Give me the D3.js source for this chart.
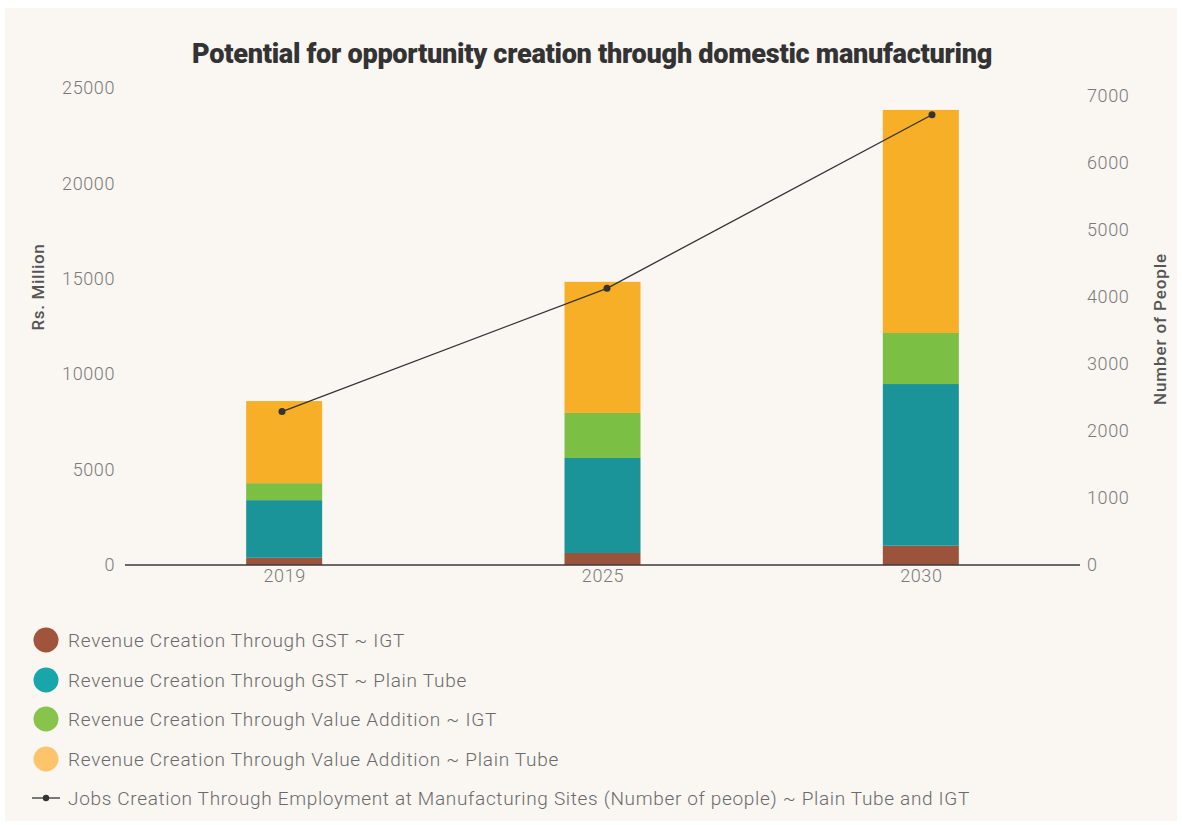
<!DOCTYPE html>
<html>
<head>
<meta charset="utf-8">
<script src="https://cdn.jsdelivr.net/npm/d3@7"></script>
<style>
  html, body { margin: 0; padding: 0; background: #ffffff; }
  svg { display: block; }
</style>
</head>
<body>
<svg id="chart" width="1182" height="825"></svg>
<script>
// Years on the category axis
const years = ["2019", "2025", "2030"];

// Revenue components (Rs. Million), stacked bottom to top
const gstIgt = [380, 630, 1010];
const gstPlain = [3020, 4980, 8475];
const vaIgt = [890, 2360, 2675];
const vaPlain = [4300, 6870, 11690];

// Jobs created (number of people), right axis
const jobs = [2290, 4130, 6720];

const leftTicks = [0, 5000, 10000, 15000, 20000, 25000];
const rightTicks = [0, 1000, 2000, 3000, 4000, 5000, 6000, 7000];

const seriesNames = [
  "Revenue Creation Through GST ~ IGT",
  "Revenue Creation Through GST ~ Plain Tube",
  "Revenue Creation Through Value Addition ~ IGT",
  "Revenue Creation Through Value Addition ~ Plain Tube"
];
const lineName = "Jobs Creation Through Employment at Manufacturing Sites (Number of people) ~ Plain Tube and IGT";

const barColors = ["#9c533b", "#1b9499", "#7bbf45", "#f6af26"];
const legendColors = ["#a0553a", "#17a6a9", "#88c34b", "#fdc46c"];

const svg = d3.select("#chart");
const W = 1182, H = 825;

// card background
svg.append("rect").attr("x", 5).attr("y", 8).attr("width", W - 10).attr("height", H - 12)
  .attr("fill", "#faf6f2");

const plot = { left: 125, right: 1080, top: 88, bottom: 565 };

const x = d3.scalePoint().domain(years).range([plot.left, plot.right]).padding(0.5);
const xLine = d3.scalePoint().domain(years).range([282, 932]);
const barW = 76;
const yL = d3.scaleLinear().domain([0, 25000]).range([plot.bottom, plot.top]);
const yR = d3.scaleLinear().domain([0, 7000]).range([plot.bottom, 96]);

const tickFont = "Roboto, 'Open Sans', sans-serif";

// stretch a text element to a given width through letter spacing
function spread(sel, target) {
  sel.each(function () {
    const n = this.getNumberOfChars();
    const w = this.getComputedTextLength();
    d3.select(this).attr("letter-spacing", (target - w) / n);
  });
}

// stacked bars
const rows = years.map((yr, i) => ({ year: yr, a: gstIgt[i], b: gstPlain[i], c: vaIgt[i], d: vaPlain[i] }));
const stack = d3.stack().keys(["a", "b", "c", "d"])(rows);
svg.append("g").selectAll("g").data(stack).join("g")
  .attr("fill", (d, i) => barColors[i])
  .selectAll("rect").data(d => d).join("rect")
  .attr("x", d => x(d.data.year) - barW / 2)
  .attr("width", barW)
  .attr("y", d => yL(d[1]))
  .attr("height", d => yL(d[0]) - yL(d[1]));

// baseline
svg.append("line").attr("x1", plot.left).attr("x2", plot.right)
  .attr("y1", plot.bottom).attr("y2", plot.bottom)
  .attr("stroke", "#3a3a3a").attr("stroke-width", 1.5);

function styleTicks(g) {
  g.select(".domain").remove();
  g.selectAll("text").attr("font-family", tickFont).attr("font-weight", 300)
    .attr("font-size", 18).attr("fill", "#7a7a7a").attr("letter-spacing", 0.6);
}

// left axis
const gL = svg.append("g").attr("transform", `translate(${plot.left},0)`)
  .call(d3.axisLeft(yL).tickValues(leftTicks).tickSize(0).tickPadding(10).tickFormat(d3.format("d")));
styleTicks(gL);

// right axis
const gR = svg.append("g").attr("transform", `translate(${plot.right},0)`)
  .call(d3.axisRight(yR).tickValues(rightTicks).tickSize(0).tickPadding(7).tickFormat(d3.format("d")));
styleTicks(gR);

// bottom axis
const gB = svg.append("g").attr("transform", `translate(0,${plot.bottom})`)
  .call(d3.axisBottom(x).tickSize(0).tickPadding(4));
styleTicks(gB);

// jobs line
const line = d3.line().x((d, i) => xLine(years[i])).y(d => yR(d));
svg.append("path").datum(jobs).attr("d", line)
  .attr("fill", "none").attr("stroke", "#333").attr("stroke-width", 1.3);
svg.append("g").selectAll("circle").data(jobs).join("circle")
  .attr("cx", (d, i) => xLine(years[i])).attr("cy", d => yR(d)).attr("r", 3.5).attr("fill", "#333");

// axis titles
const tL = svg.append("text").attr("transform", "translate(44,287) rotate(-90)")
  .attr("text-anchor", "middle").attr("font-family", tickFont).attr("font-weight", 500)
  .attr("font-size", 17).attr("fill", "#555").text("Rs. Million");
spread(tL, 87);
const tR = svg.append("text").attr("transform", "translate(1166,329) rotate(-90)")
  .attr("text-anchor", "middle").attr("font-family", tickFont).attr("font-weight", 500)
  .attr("font-size", 17).attr("fill", "#555").text("Number of People");
spread(tR, 152);

// title
const title = svg.append("text").attr("x", 592).attr("y", 63).attr("text-anchor", "middle")
  .attr("font-family", "Roboto, sans-serif").attr("font-weight", 900)
  .attr("font-size", 23).attr("fill", "#333").attr("letter-spacing", -0.3)
  .text("Potential for opportunity creation through domestic manufacturing");
(function fitWidth(sel, target) {
  const w = sel.node().getComputedTextLength();
  const fs = +sel.attr("font-size");
  sel.attr("font-size", fs * target / w);
})(title, 797);

// legend
const legY = [640, 680, 719, 759];
const legEnd = [405, 467, 497, 559];
const leg = svg.append("g");
seriesNames.forEach((name, i) => {
  leg.append("circle").attr("cx", 46).attr("cy", legY[i]).attr("r", 12.5).attr("fill", legendColors[i]);
  const t = leg.append("text").attr("x", 68).attr("y", legY[i]).attr("dy", "0.35em")
    .attr("font-family", tickFont).attr("font-weight", 300).attr("font-size", 19)
    .attr("fill", "#6a6a6a").text(name);
  spread(t, legEnd[i] - 68);
});
const ly = 798;
leg.append("line").attr("x1", 32).attr("x2", 60).attr("y1", ly).attr("y2", ly)
  .attr("stroke", "#333").attr("stroke-width", 1.3);
leg.append("circle").attr("cx", 46).attr("cy", ly).attr("r", 3.2).attr("fill", "#333");
const lt = leg.append("text").attr("x", 68).attr("y", ly).attr("dy", "0.35em")
  .attr("font-family", tickFont).attr("font-weight", 300).attr("font-size", 19)
  .attr("fill", "#6a6a6a").text(lineName);
spread(lt, 970 - 68);
</script>
</body>
</html>
